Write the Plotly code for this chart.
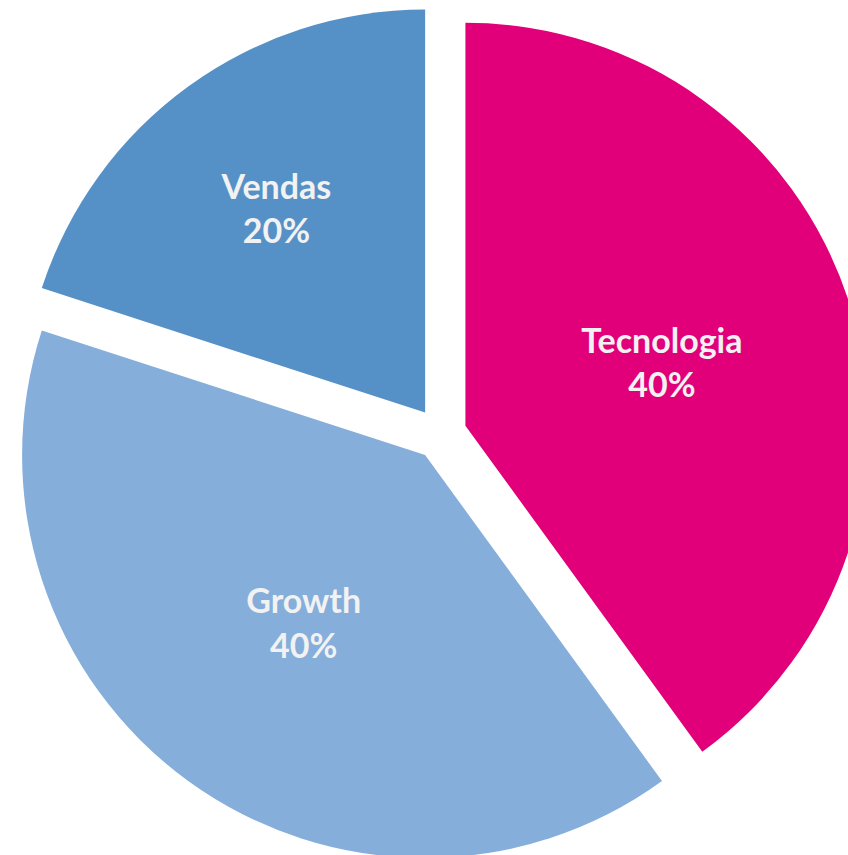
import plotly.graph_objects as go

labels = ["Tecnologia", "Growth", "Vendas"]
values = [40, 40, 20]
colors = ["#E2007A", "#85AEDB", "#5591C7"]
pulls = [0.065, 0.065, 0.065]

fig = go.Figure(go.Pie(
    labels=labels,
    values=values,
    sort=False,
    direction="clockwise",
    rotation=0,
    pull=pulls,
    marker=dict(colors=colors, line=dict(width=0)),
    textinfo="label+percent",
    texttemplate="%{label}<br>%{percent:.0%}",
    textposition="inside",
    insidetextorientation="horizontal",
    textfont=dict(family="Lato", size=34, color="#F2F2F2", weight="bold"),
    domain=dict(x=[0, 1], y=[0, 0.9947]),
    hoverinfo="skip",
))

fig.update_layout(
    width=881,
    height=863,
    margin=dict(l=0, r=0, t=0, b=0, pad=0),
    showlegend=False,
    paper_bgcolor="white",
    plot_bgcolor="white",
    uniformtext=dict(minsize=34, mode="show"),
)

post = """
document.documentElement.style.overflow='hidden';
document.body.style.overflow='hidden';
document.body.style.margin='0';
"""
fig.write_html("out.html", post_script=post)
